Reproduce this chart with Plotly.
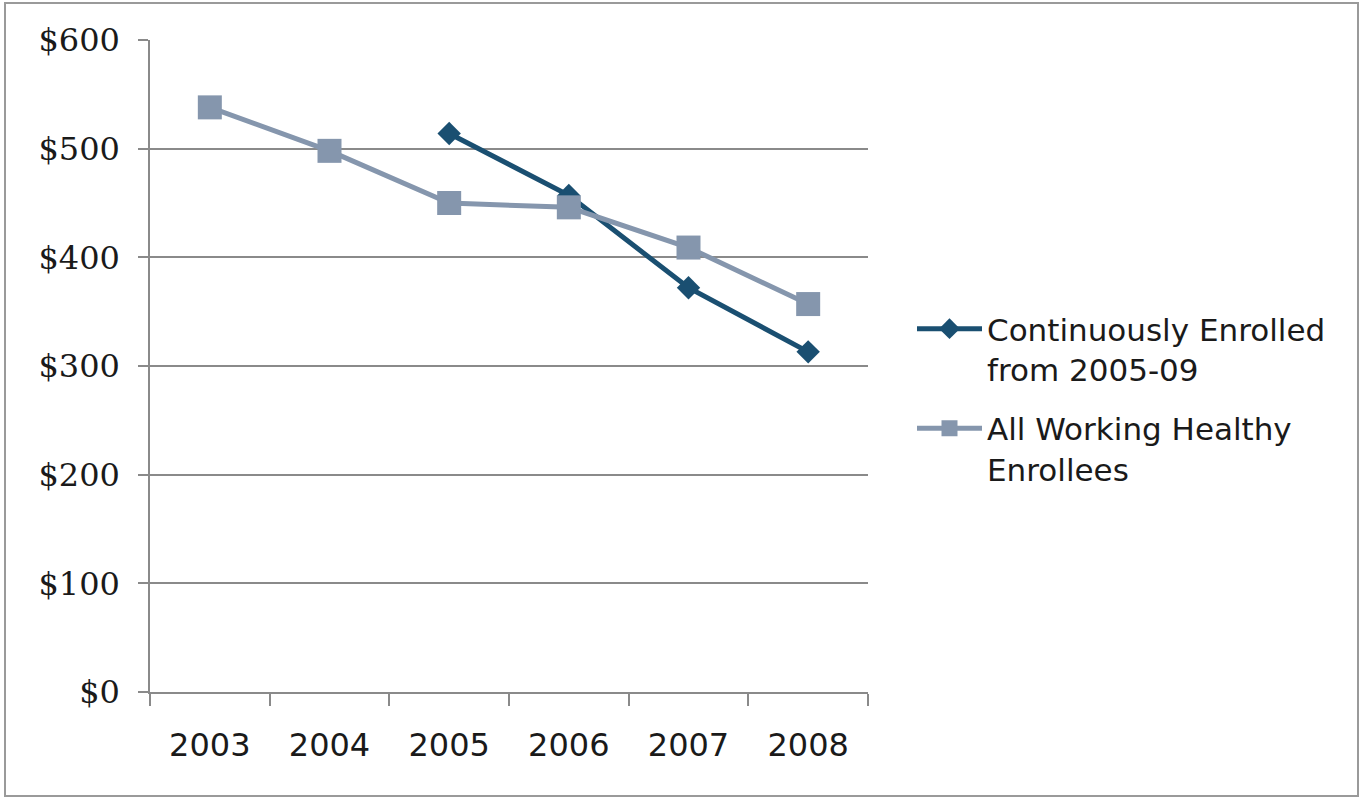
import plotly.graph_objects as go

years = ["2003", "2004", "2005", "2006", "2007", "2008"]
continuous_years = ["2005", "2006", "2007", "2008"]
continuous_vals = [514, 457, 372, 313]
all_working_vals = [538, 498, 450, 446, 409, 357]
y_ticks = [0, 100, 200, 300, 400, 500, 600]
y_tick_labels = ["$0", "$100", "$200", "$300", "$400", "$500", "$600"]

W, H = 1360, 798
L, R, T, B = 150, 868, 40, 692  # plot area in pixels

fig = go.Figure()
fig.add_trace(go.Scatter(
    x=continuous_years, y=continuous_vals, mode="lines+markers",
    name="Continuously Enrolled<br>from 2005-09", legendgroup="g1",
    line=dict(color="#1A4F71", width=5),
    marker=dict(symbol="diamond", size=18, color="#1A4F71"),
))
fig.add_trace(go.Scatter(
    x=years, y=all_working_vals, mode="lines+markers",
    name="All Working Healthy<br>Enrollees", legendgroup="g2",
    line=dict(color="#8596AD", width=5),
    marker=dict(symbol="square", size=24, color="#8596AD"),
))

def px_to_paper_x(px):
    return (px - L) / (R - L)

def px_to_paper_y(py):
    return (B - py) / (B - T)

fig.add_shape(type="rect", xref="paper", yref="paper",
              x0=px_to_paper_x(5), x1=px_to_paper_x(1358),
              y0=px_to_paper_y(796), y1=px_to_paper_y(3),
              line=dict(color="#9A9A9A", width=2), fillcolor="rgba(0,0,0,0)",
              layer="below")

fig.update_layout(
    width=W, height=H,
    margin=dict(l=L, r=W - R, t=T, b=H - B, pad=0),
    paper_bgcolor="white", plot_bgcolor="white",
    showlegend=True,
    legend=dict(
        x=px_to_paper_x(912), y=px_to_paper_y(399), xanchor="left", yanchor="middle",
        font=dict(family="DejaVu Sans", size=31, color="#1a1a1a"),
        itemwidth=65, tracegroupgap=16, bgcolor="rgba(0,0,0,0)", valign="top",
    ),
    xaxis=dict(
        type="category", categoryorder="array", categoryarray=years,
        range=[-0.5, len(years) - 0.5],
        tickson="boundaries", ticks="outside", ticklen=12, tickcolor="#8A8A8A", tickwidth=1.5,
        showline=True, linecolor="#8A8A8A", linewidth=1.5,
        showgrid=False, zeroline=False,
        tickfont=dict(family="DejaVu Sans", size=32, color="#1a1a1a"),
        ticklabelstandoff=24,
    ),
    yaxis=dict(
        range=[0, 600], tickvals=y_ticks, ticktext=y_tick_labels,
        ticks="outside", ticklen=10, tickcolor="#8A8A8A", tickwidth=1.5,
        showline=True, linecolor="#8A8A8A", linewidth=1.5,
        showgrid=True, gridcolor="#8A8A8A", gridwidth=1.5, zeroline=False,
        tickfont=dict(family="DejaVu Serif", size=32, color="#1a1a1a"),
        ticklabelstandoff=12,
    ),
)

fig.write_html("out.html", config={"displayModeBar": False},
               post_script="document.body.style.margin='0';")
